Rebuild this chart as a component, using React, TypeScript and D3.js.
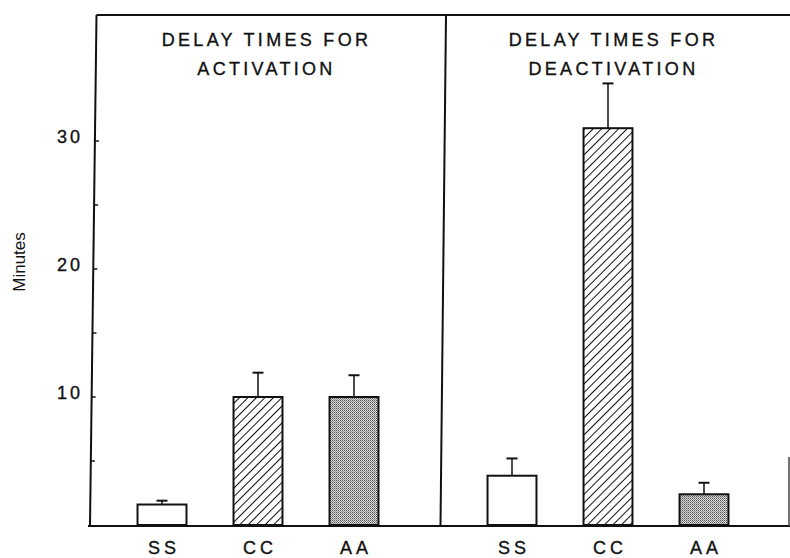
import React from "react";
import * as d3 from "d3";

const categories = ["SS", "CC", "AA"];
const activationMeans = [1.6, 10.0, 10.0];
const activationErrTop = [1.9, 11.9, 11.7];
const deactivationMeans = [3.85, 31.0, 2.4];
const deactivationErrTop = [5.2, 34.5, 3.3];
const yTickLabels = [10, 20, 30];
const yMinorTicks = [5, 15, 25];
const panelTitles = [
  ["DELAY TIMES FOR", "ACTIVATION"],
  ["DELAY TIMES FOR", "DEACTIVATION"],
];
const yLabel = "Minutes";

const W = 790;
const H = 558;
const FONT = "'Liberation Sans', Arial, Helvetica, sans-serif";

export default function App() {
  const y = d3.scaleLinear().domain([0, 10]).range([525, 397]);
  const top = 15;
  const base = 526;
  const xLeft = d3.scaleBand<string>().domain(categories).range([114, 402]).paddingInner(0.49).paddingOuter(0.245);
  const xRight = d3.scaleBand<string>().domain(categories).range([464, 752]).paddingInner(0.49).paddingOuter(0.245);
  // slightly tilted scanned axes
  const axisX = d3.scaleLinear().domain([top, base]).range([96.5, 90]);
  const divX = d3.scaleLinear().domain([top, base]).range([446, 440.5]);
  const fills = ["#ffffff", "url(#hatch)", "url(#stipple)"];

  const panels = [
    { x: xLeft, means: activationMeans, errs: activationErrTop, title: panelTitles[0], cx: 265 },
    { x: xRight, means: deactivationMeans, errs: deactivationErrTop, title: panelTitles[1], cx: 612 },
  ];

  const textStyle = { stroke: "#111", strokeWidth: 0.35 };

  return (
    <div style={{ position: "fixed", left: 0, top: 0 }}>
      <svg width={W} height={H} style={{ display: "block", background: "#fff" }}>
        <defs>
          <pattern id="hatch" patternUnits="userSpaceOnUse" width="6" height="6" patternTransform="rotate(45)">
            <rect width="6" height="6" fill="#fff" />
            <line x1="0" y1="0" x2="0" y2="6" stroke="#111" strokeWidth="2" />
          </pattern>
          <pattern id="stipple" patternUnits="userSpaceOnUse" width="2" height="2">
            <rect width="2" height="2" fill="#d8d8d8" />
            <rect x="0" y="0" width="1" height="1" fill="#555" />
            <rect x="1" y="1" width="1" height="1" fill="#8a8a8a" />
          </pattern>
        </defs>

        {/* frame */}
        <line x1={axisX(top)} y1={top} x2={W} y2={top} stroke="#111" strokeWidth={2} />
        <line x1={88} y1={base} x2={W} y2={base} stroke="#111" strokeWidth={2} />
        <line x1={axisX(top)} y1={top} x2={axisX(base)} y2={base} stroke="#111" strokeWidth={2} />
        <line x1={divX(top)} y1={top} x2={divX(base)} y2={base} stroke="#111" strokeWidth={2} />
        <line x1={789} y1={457} x2={789} y2={base} stroke="#444" strokeWidth={1.5} />

        {/* y ticks */}
        {[...yTickLabels, ...yMinorTicks].map((t) => (
          <line key={"t" + t} x1={axisX(y(t))} y1={y(t)} x2={axisX(y(t)) + 4} y2={y(t)} stroke="#111" strokeWidth={1.5} />
        ))}
        {yTickLabels.map((t) => (
          <text key={"l" + t} x={83} y={y(t) + 1.5} textAnchor="end" fontFamily={FONT} fontSize={18} letterSpacing={3} fill="#111" style={textStyle}>
            {t}
          </text>
        ))}

        <text transform={`translate(25,262) rotate(-90)`} textAnchor="middle" fontFamily={FONT} fontSize={17} fill="#111">
          {yLabel}
        </text>

        {panels.map((p, pi) => (
          <g key={pi}>
            {p.title.map((line, li) => (
              <text key={li} x={p.cx + 1.5} y={45.5 + li * 29.5} textAnchor="middle" fontFamily={FONT} fontSize={18} letterSpacing={3.3} fill="#111" style={textStyle}>
                {line}
              </text>
            ))}
            {categories.map((c, i) => {
              const bx = p.x(c)!;
              const bw = p.x.bandwidth();
              const cx = bx + bw / 2;
              return (
                <g key={c}>
                  <line x1={cx} y1={y(p.means[i])} x2={cx} y2={y(p.errs[i])} stroke="#111" strokeWidth={1.5} />
                  <line x1={cx - 5.5} y1={y(p.errs[i])} x2={cx + 5.5} y2={y(p.errs[i])} stroke="#111" strokeWidth={2} />
                  <rect x={bx} y={y(p.means[i])} width={bw} height={y(0) - y(p.means[i])} fill={fills[i]} stroke="#111" strokeWidth={2} />
                  <text x={cx + 2} y={554} textAnchor="middle" fontFamily={FONT} fontSize={18} letterSpacing={4} fill="#111" style={textStyle}>
                    {c}
                  </text>
                </g>
              );
            })}
          </g>
        ))}
      </svg>
    </div>
  );
}
